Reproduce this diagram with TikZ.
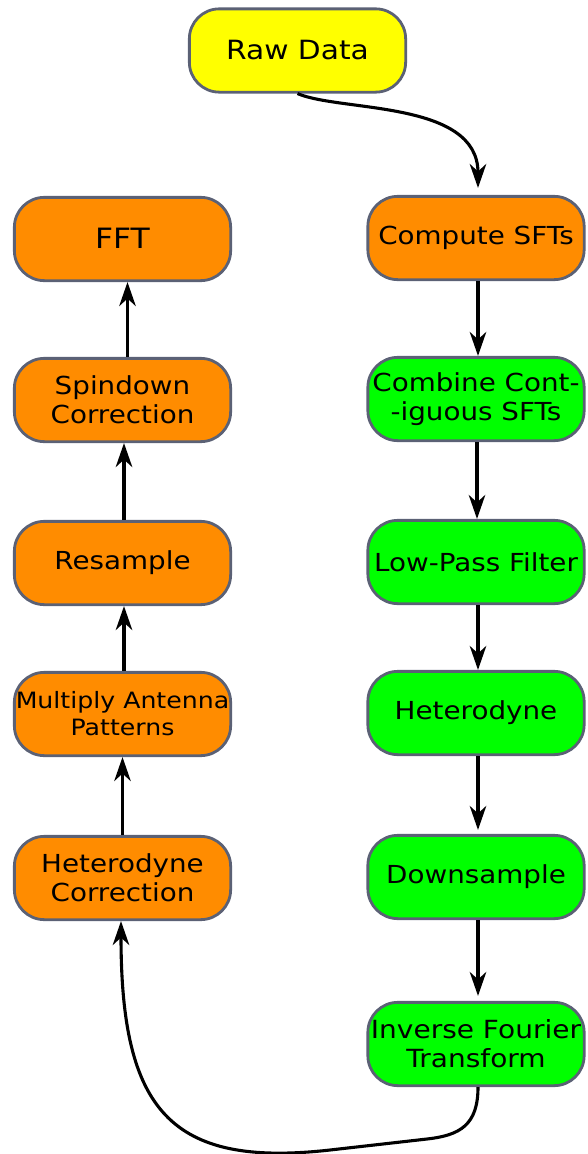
\documentclass[tikz,border=0pt]{standalone}
\usepackage{fontspec}
\setmainfont{DejaVu Sans}[FakeStretch=1.12]
\usetikzlibrary{arrows.meta}
\definecolor{bordergray}{HTML}{5B6175}
\definecolor{boxorange}{HTML}{FF8C00}
\definecolor{boxgreen}{HTML}{00FF00}
\definecolor{boxyellow}{HTML}{FFFF00}
\tikzset{
  procbox/.style={draw=bordergray, line width=2.8pt, rounded corners=30pt,
    minimum width=216.3pt, minimum height=83.3pt, inner sep=0pt, align=center,
    font=\fontsize{24.8}{29}\selectfont},
  orangebox/.style={procbox, fill=boxorange},
  greenbox/.style={procbox, fill=boxgreen},
  yellowbox/.style={procbox, fill=boxyellow},
  flow/.style={line width=3.1pt, -{Stealth[length=24pt, width=16.5pt, inset=7.5pt]}}
}
\begin{document}
\begin{tikzpicture}[x=1pt, y=-1pt]
\useasboundingbox (0,0) rectangle (587,1154);
% top
\node[yellowbox, font=\fontsize{26.5}{31}\selectfont] (raw) at (297.5,50.5) {Raw Data};
% right column
\node[orangebox] (cmp) at (476,238) {Compute SFTs};
\node[greenbox] (comb) at (476,399) {Combine Cont-\\-iguous SFTs};
\node[greenbox] (lpf) at (476,562) {Low-Pass Filter};
\node[greenbox] (het) at (476,713) {\raisebox{3pt}{Heterodyne}};
\node[greenbox] (down) at (476,877) {\raisebox{2pt}{Downsample}};
\node[greenbox, font=\fontsize{25}{29}\selectfont] (inv) at (476,1044) {Inverse Fourier\\Transform};
% left column
\node[orangebox, font=\fontsize{28}{32}\selectfont] (fft) at (122.5,239) {\raisebox{2pt}{FFT}};
\node[orangebox] (spin) at (122.5,400) {Spindown\\Correction};
\node[orangebox] (res) at (122.5,563) {\raisebox{2pt}{Resample}};
\node[orangebox, font=\fontsize{22.5}{27}\selectfont] (mul) at (122.5,714) {Multiply Antenna\\Patterns};
\node[orangebox] (hc) at (122.5,878) {Heterodyne\\Correction};
% connectors
\draw[flow] (raw.south) .. controls (340,112) and (478,100) .. ([xshift=2pt,yshift=7pt]cmp.north);
\draw[flow] ([xshift=2pt]cmp.south) -- ([xshift=2pt]comb.north);
\draw[flow] ([xshift=1pt]comb.south) -- ([xshift=1pt]lpf.north);
\draw[flow] ([xshift=2pt]lpf.south) -- ([xshift=2pt]het.north);
\draw[flow] ([xshift=2pt]het.south) -- ([xshift=2pt,yshift=4pt]down.north);
\draw[flow] ([xshift=2pt]down.south) -- ([xshift=2pt,yshift=5pt]inv.north);
\draw[flow] ([xshift=2pt]inv.south) .. controls (478,1125) and (460,1135.3) .. (427,1139)
  -- (330,1150) .. controls (170,1168) and (121,1110) .. ([xshift=-1.5pt]hc.south);
\draw[flow] (hc.north) -- (mul.south);
\draw[flow] ([xshift=1.5pt]mul.north) -- ([xshift=1.5pt]res.south);
\draw[flow] ([xshift=1.5pt]res.north) -- ([xshift=1.5pt]spin.south);
\draw[flow] ([xshift=5pt]spin.north) -- ([xshift=5pt]fft.south);
\end{tikzpicture}
\end{document}
